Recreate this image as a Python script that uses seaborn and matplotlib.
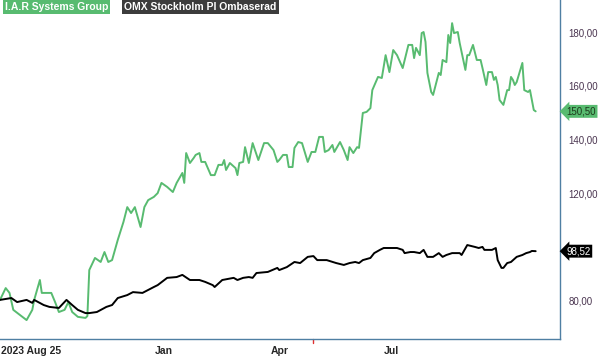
import numpy as np
import pandas as pd
import matplotlib
matplotlib.use("Agg")
import matplotlib.pyplot as plt
import matplotlib.transforms as mtransforms
import seaborn as sns

# session index (trading days) and prices
iar_day = [0, 3, 5, 7, 14, 17, 18, 21, 22, 27, 29, 31, 34, 36, 38, 41, 45, 46, 47, 50,
           53, 55, 57, 59, 62, 65, 67, 69, 71, 74, 76, 78, 81, 83, 85, 88, 91, 93, 96, 97,
           98, 100, 102, 103, 105, 106, 108, 111, 113, 115, 117, 118, 119, 121, 124, 125, 126, 128, 129, 131,
           133, 136, 139, 141, 144, 146, 147, 149, 151, 152, 154, 155, 157, 159, 162, 164, 166, 168, 170, 171,
           173, 175, 176, 179, 181, 183, 184, 186, 188, 189, 191, 193, 195, 196, 199, 201, 203, 205, 207, 209,
           212, 215, 217, 218, 219, 221, 222, 223, 224, 225, 227, 228, 231, 232, 233, 235, 236, 237, 238, 239,
           241, 242, 245, 246, 247, 249, 251, 253, 254, 256, 257, 259, 260, 261, 262, 263, 265, 267, 268, 269,
           270, 271, 272, 275, 276, 278, 279, 281, 282]
iar_price = [80.4, 84.8, 83.0, 76.7, 72.9, 76.7, 80.4, 87.8, 83.0, 83.0, 79.6, 75.9, 76.7, 79.6, 75.9, 74.1, 73.7, 74.4, 91.5, 96.0,
             94.5, 98.2, 94.5, 95.2, 102.7, 109.4, 114.9, 112.7, 114.9, 107.5, 114.9, 117.5, 118.7, 120.1, 123.9, 122.4, 120.5, 123.9, 127.6, 123.9,
             135.0, 131.3, 133.2, 134.3, 135.0, 131.7, 131.7, 126.8, 126.8, 130.6, 130.6, 132.4, 128.7, 131.3, 129.4, 126.8, 131.3, 131.7, 137.2, 131.3,
             138.7, 132.4, 138.7, 138.7, 136.1, 131.7, 132.4, 134.3, 134.3, 129.8, 129.8, 136.9, 139.1, 138.7, 131.7, 135.4, 135.4, 141.0, 141.0, 135.4,
             136.1, 138.0, 135.4, 139.1, 136.1, 132.4, 137.2, 135.0, 137.2, 136.9, 149.9, 150.3, 151.7, 158.4, 163.3, 162.9, 171.4, 165.1, 173.3, 171.4,
             166.6, 175.2, 175.2, 170.3, 174.1, 171.4, 179.6, 180.0, 176.3, 164.8, 157.7, 156.6, 164.8, 164.0, 169.6, 168.8, 178.9, 175.9, 183.3, 179.6,
             180.0, 175.9, 165.9, 171.4, 171.4, 175.2, 169.6, 169.6, 166.6, 160.3, 165.1, 165.1, 162.2, 163.3, 160.3, 154.7, 152.9, 158.4, 158.4, 163.3,
             162.2, 160.3, 161.4, 168.5, 158.4, 157.7, 158.4, 151.0, 150.5]

omx_day = [0, 6, 9, 14, 17, 18, 23, 26, 31, 35, 38, 41, 45, 47, 51, 56, 59, 62, 67, 70,
           75, 81, 83, 88, 93, 96, 100, 105, 108, 112, 113, 117, 123, 125, 128, 131, 133, 135, 141, 146,
           147, 151, 155, 158, 162, 165, 167, 172, 177, 181, 184, 187, 189, 191, 195, 197, 200, 202, 204, 209,
           212, 213, 216, 218, 221, 223, 225, 228, 231, 233, 235, 238, 242, 243, 246, 250, 252, 254, 255, 259,
           261, 262, 264, 265, 267, 269, 272, 275, 277, 279, 280, 282]
omx_price = [80.4, 81.1, 79.6, 80.4, 79.3, 80.4, 78.5, 77.8, 77.4, 80.4, 78.5, 76.7, 75.5, 75.5, 75.9, 77.8, 78.5, 81.1, 82.2, 83.3,
             83.0, 85.2, 85.9, 88.6, 88.9, 89.7, 87.8, 87.8, 87.1, 85.9, 85.2, 87.8, 88.6, 87.8, 88.6, 88.9, 88.6, 90.4, 90.8, 92.3,
             91.5, 92.6, 94.5, 94.1, 96.4, 96.7, 95.2, 95.2, 94.1, 93.4, 94.1, 94.5, 94.1, 95.2, 96.0, 97.8, 99.0, 99.7, 99.7, 99.7,
             99.0, 97.8, 98.2, 98.2, 97.8, 99.0, 96.4, 96.4, 97.8, 96.4, 97.1, 97.8, 97.8, 97.1, 100.8, 100.1, 99.7, 100.1, 99.0, 99.0,
             99.7, 95.2, 92.3, 92.3, 94.1, 94.5, 96.4, 97.1, 97.8, 98.2, 98.6, 98.52]

tick_days = [25, 86, 147, 206]
tick_labels = ["2023 Aug 25", "Jan", "Apr", "Jul"]
y_ticks = [80, 120, 140, 160, 180]
marker_day = 165

green = "#58bb70"
axis_blue = "#4f7fa3"

sns.set_style("white")
plt.rcParams["font.family"] = ["Liberation Sans", "DejaVu Sans"]

iar = pd.DataFrame({"day": iar_day, "price": iar_price})
omx = pd.DataFrame({"day": omx_day, "price": omx_price})

fig = plt.figure(figsize=(6, 3.56), dpi=100)
ax = fig.add_axes([0, 0.048, 0.933, 0.952])

sns.lineplot(data=iar, x="day", y="price", ax=ax, color=green, lw=1.4,
             estimator=None, sort=False)
sns.lineplot(data=omx, x="day", y="price", ax=ax, color="black", lw=1.4,
             estimator=None, sort=False)

ax.set_xlim(0, 294.7)
ax.set_ylim(65.9, 191.9)
ax.set_xlabel("")
ax.set_ylabel("")

for s in ["left", "top"]:
    ax.spines[s].set_visible(False)
for s in ["right", "bottom"]:
    ax.spines[s].set_color(axis_blue)
    ax.spines[s].set_linewidth(1.0)

ax.yaxis.tick_right()
ax.set_yticks(y_ticks)
ax.set_yticklabels([f"{v:.2f}".replace(".", ",") for v in y_ticks])
ax.tick_params(axis="y", length=0, pad=6, labelsize=7, labelcolor="#4a3550")

ax.set_xticks(tick_days)
ax.set_xticklabels(tick_labels, fontweight="bold")
ax.tick_params(axis="x", direction="out", length=4, color=axis_blue, width=1,
               labelsize=7.5, pad=1)
# first date label starts at the left edge, as in the reference
first = ax.get_xticklabels()[0]
first.set_horizontalalignment("left")
first.set_transform(first.get_transform() +
                    mtransforms.ScaledTranslation(-0.46, 0, fig.dpi_scale_trans))

# red marker tick on the date axis
ax.plot([marker_day, marker_day], [0, -0.012], transform=ax.get_xaxis_transform(),
        color="#e03030", lw=1, clip_on=False)

# legend boxes at the top
fig.text(0.008, 0.98, "I.A.R Systems Group", color="white", fontsize=7.5,
         fontweight="bold", va="center", ha="left",
         bbox=dict(boxstyle="square,pad=0.22", fc=green, ec="none"))
fig.text(0.207, 0.98, "OMX Stockholm PI Ombaserad", color="white", fontsize=7.5,
         fontweight="bold", va="center", ha="left",
         bbox=dict(boxstyle="square,pad=0.22", fc="#3c3c3c", ec="none"))

# last-price labels on the right axis
ax.annotate(f"{iar_price[-1]:.2f}".replace(".", ","), xy=(1.0, iar_price[-1]),
            xycoords=("axes fraction", "data"), xytext=(1.012, iar_price[-1]),
            textcoords=("axes fraction", "data"), fontsize=7, color="#1c3a1c",
            va="center", ha="left", annotation_clip=False,
            bbox=dict(boxstyle="larrow,pad=0.15", fc=green, ec="none"))
ax.annotate(f"{omx_price[-1]:.2f}".replace(".", ","), xy=(1.0, omx_price[-1]),
            xycoords=("axes fraction", "data"), xytext=(1.012, omx_price[-1]),
            textcoords=("axes fraction", "data"), fontsize=7, color="white",
            va="center", ha="left", annotation_clip=False,
            bbox=dict(boxstyle="larrow,pad=0.15", fc="black", ec="none"))

fig.savefig("out.png", dpi=100)
